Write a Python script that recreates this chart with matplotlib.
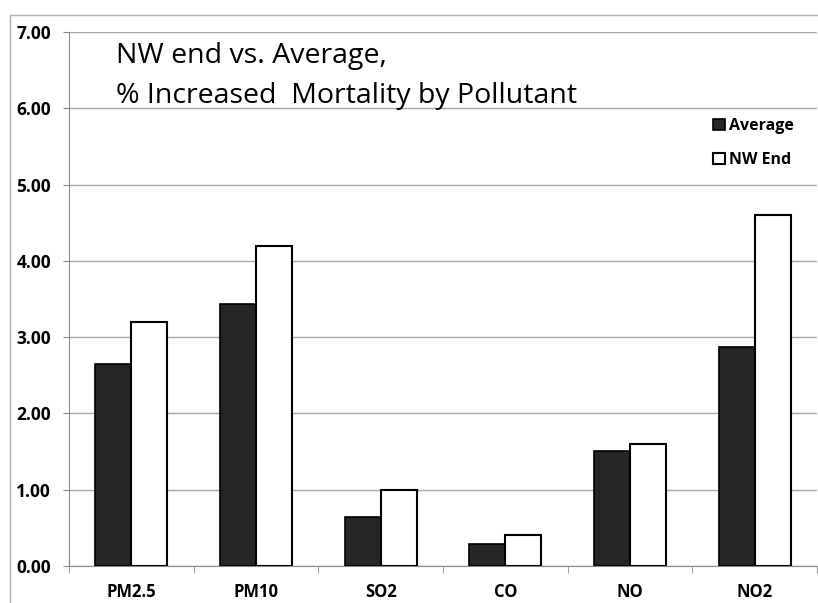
import matplotlib
matplotlib.use("Agg")
import matplotlib.pyplot as plt
import numpy as np
from matplotlib.patches import Rectangle

plt.rcParams["font.family"] = ["Open Sans", "DejaVu Sans"]

pollutants = ["PM2.5", "PM10", "SO2", "CO", "NO", "NO2"]
average = [2.65, 3.43, 0.64, 0.29, 1.51, 2.87]
nw_end = [3.20, 4.20, 1.00, 0.40, 1.60, 4.60]
y_ticks = [0, 1, 2, 3, 4, 5, 6, 7]

fig = plt.figure(figsize=(8.18, 6.03), dpi=100)
ax = fig.add_axes([69 / 818, 1 - 566 / 603, 748 / 818, 534 / 603])

# outer chart border, cut off at the right and bottom like the original
fig.patches.append(Rectangle((10 / 818, -0.1), 1.2, 1 - 15 / 603 + 0.1,
                             transform=fig.transFigure, fill=False,
                             edgecolor="#b0b0b0", linewidth=1.0, zorder=0))

x = np.arange(len(pollutants))
w = 0.29
ax.bar(x - w / 2, average, w, color="#262626", edgecolor="black",
       linewidth=1.2, label="Average", zorder=3)
ax.bar(x + w / 2, nw_end, w, color="white", edgecolor="black",
       linewidth=1.5, label="NW End", zorder=3)

ax.set_xlim(-0.5, len(pollutants) - 0.5)
ax.set_ylim(0, 7)
ax.set_yticks(y_ticks)
ax.set_yticklabels([f"{v:.2f}" for v in y_ticks], fontweight="bold", fontsize=12.5)
ax.yaxis.grid(True, color="#a6a6a6", linewidth=1.0, zorder=0)
ax.set_axisbelow(True)

ax.set_xticks(x)
ax.set_xticklabels(pollutants, fontweight="bold", fontsize=12)
ax.set_xticks(np.arange(-0.5, len(pollutants) + 0.5, 1), minor=True)
ax.tick_params(axis="x", which="major", length=0, pad=12)
ax.tick_params(axis="x", which="minor", length=5, color="#888888")
ax.tick_params(axis="y", length=4.5, color="#888888", pad=8.5)

for side in ["top", "right"]:
    ax.spines[side].set_visible(False)
for side in ["left", "bottom"]:
    ax.spines[side].set_color("#888888")

fig.text(116 / 818, 1 - 63 / 603, "NW end vs. Average,", fontsize=20.5,
         va="baseline", ha="left")
fig.text(116 / 818, 1 - 103 / 603, "% Increased  Mortality by Pollutant",
         fontsize=20.5, va="baseline", ha="left")

leg = ax.legend(loc="upper left", frameon=False,
                prop={"weight": "bold", "size": 11.5},
                handlelength=0.7, handleheight=0.7, handletextpad=0.3,
                labelspacing=1.1)
leg.set_bbox_to_anchor((699 / 818, 1 - 104 / 603), transform=fig.transFigure)

fig.savefig("out.png", dpi=100)
